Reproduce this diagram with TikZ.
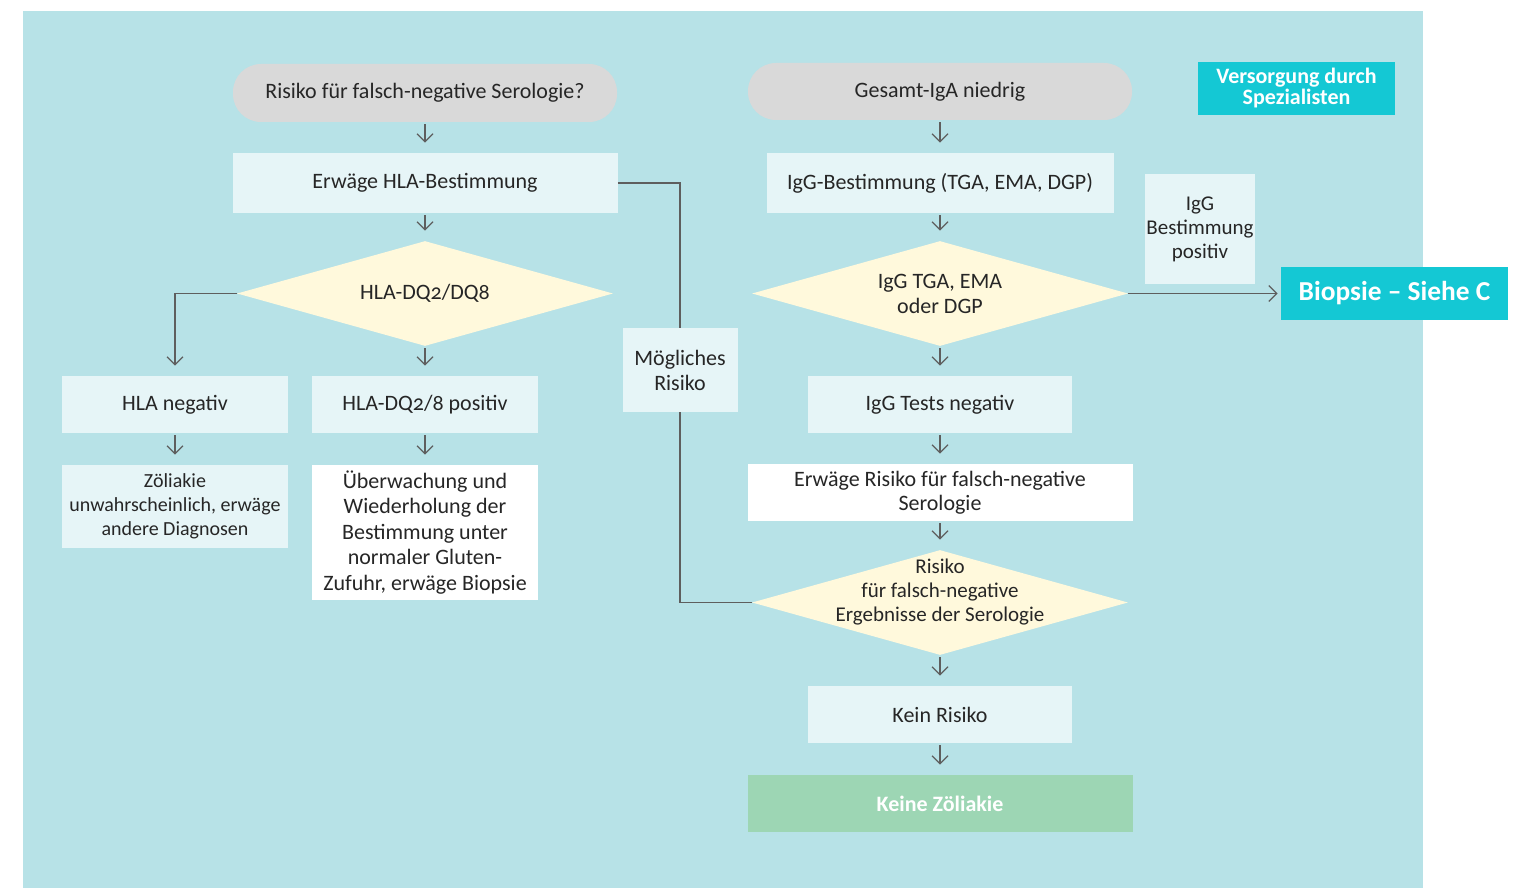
\documentclass[tikz,border=0pt]{standalone}
\usepackage{fontspec}
\setmainfont{Carlito}[Numbers=OldStyle]
\usepackage{tikz}
\usetikzlibrary{arrows.meta,shapes.geometric}

\definecolor{panel}{HTML}{B7E2E7}
\definecolor{pale}{HTML}{E6F5F7}
\definecolor{pillgrey}{HTML}{D9D9D9}
\definecolor{dyellow}{HTML}{FFF9DC}
\definecolor{spec}{HTML}{14C8D4}
\definecolor{okgreen}{HTML}{9DD6B4}
\definecolor{ink}{HTML}{262626}
\definecolor{wire}{HTML}{5E5E5E}

\begin{document}
\begin{tikzpicture}[
  x=0.5pt, y=-0.5pt,
  font=\fontsize{11}{12.5}\selectfont,
  pill/.style={fill=pillgrey, rounded corners=14pt, minimum width=192pt, minimum height=29pt, align=center, text=ink},
  box/.style={fill=pale, align=center, inner sep=2pt, text=ink},
  wbox/.style={box, fill=white},
  dia/.style={diamond, aspect=3.6, fill=dyellow, minimum width=188pt, minimum height=52.5pt, inner sep=-10pt, align=center, text=ink},
  hot/.style={fill=spec, text=white, align=center, font=\bfseries\fontsize{11}{10.5}\selectfont},
  arr/.style={-{Straight Barb[length=4pt,width=8pt]}, draw=wire, line width=0.6pt, shorten <=1pt, shorten >=5pt},
  link/.style={draw=wire, line width=0.6pt}
]
\useasboundingbox (0,0) rectangle (1526,888);
\fill[panel] (23,11) rectangle (1423,888);

% Left column
\node[pill] (riskq) at (425,93) {Risiko für falsch-negative Serologie?};
\node[box, minimum width=192.5pt, minimum height=30pt] (hlatest) at (425,183) {Erwäge HLA-Bestimmung};
\node[dia] (hladia) at (425,293.5) {HLA-DQ2/DQ8};
\node[box, minimum width=113pt, minimum height=28.5pt] (hlaneg) at (175,404.5) {HLA negativ};
\node[box, minimum width=113pt, minimum height=28.5pt] (hlapos) at (425,404.5) {HLA-DQ2/8 positiv};
\node[box, minimum width=113pt, minimum height=41.5pt, font=\fontsize{10}{12}\selectfont] (unlikely) at (175,506.5)
  {Zöliakie\\unwahrscheinlich, erwäge\\andere Diagnosen};
\node[wbox, minimum width=113pt, minimum height=67.5pt, font=\fontsize{11}{12.75}\selectfont] (watch) at (425,532.5)
  {Überwachung und\\Wiederholung der\\Bestimmung unter\\normaler Gluten-\\Zufuhr, erwäge Biopsie};

\draw[arr] (riskq) -- (hlatest);
\draw[arr] (hlatest) -- (hladia);
\draw[arr] (hladia) -- (hlapos);
\draw[arr, shorten <=0pt] (hladia.west) -| (hlaneg.north);
\draw[arr] (hlaneg) -- (unlikely);
\draw[arr] (hlapos) -- (watch);

% Right column
\node[pill, minimum height=28.5pt] (lowiga) at (940,91.5) {Gesamt-IgA niedrig};
\node[box, minimum width=173.5pt, minimum height=30pt] (iggtest) at (940,183) {IgG-Bestimmung (TGA, EMA, DGP)};
\node[dia] (iggdia) at (940,293.5) {IgG TGA, EMA\\oder DGP};
\node[box, minimum width=132pt, minimum height=28.5pt] (iggneg) at (940,404.5) {IgG Tests negativ};
\node[wbox, minimum width=192.5pt, minimum height=28.5pt, font=\fontsize{11}{12}\selectfont] (falseneg) at (940,492.5) {Erwäge Risiko für falsch-negative\\Serologie};
\node[dia, font=\fontsize{10.5}{12}\selectfont, text depth=12pt] (riskdia) at (940,602.5) {Risiko\\für falsch-negative\\Ergebnisse der Serologie};
\node[box, minimum width=132pt, minimum height=28.5pt] (norisk) at (940,714.5) {Kein Risiko};
\node[hot, fill=okgreen, minimum width=192.5pt, minimum height=28.5pt] (nocd) at (940,803.5) {Keine Zöliakie};

\draw[arr] (lowiga) -- (iggtest);
\draw[arr] (iggtest) -- (iggdia);
\draw[arr] (iggdia) -- (iggneg);
\draw[arr] (iggneg) -- (falseneg);
\draw[arr] (falseneg) -- (riskdia);
\draw[arr] (riskdia) -- (norisk);
\draw[arr] (norisk) -- (nocd);

% Possible risk link
\node[box, minimum width=57.5pt, minimum height=42pt] (maybe) at (680,370) {Mögliches\\Risiko};
\draw[link] (hlatest.east) -| (maybe.north);
\draw[link] (maybe.south) |- (riskdia.west);

% Specialist care
\node[hot, minimum width=98.5pt, minimum height=26pt] (care) at (1296.5,88.5) {Versorgung durch\\Spezialisten};
\node[box, minimum width=55pt, minimum height=55pt, inner sep=0pt, font=\fontsize{10.5}{12}\selectfont] (iggpos) at (1200,229) {IgG\\Bestimmung\\positiv};
\node[hot, minimum width=113.5pt, minimum height=26.5pt, font=\bfseries\fontsize{13.7}{14}\selectfont] (biopsy) at (1394.5,293.5) {Biopsie -- Siehe C};
\draw[arr, shorten <=0pt, shorten >=1.5pt] (iggdia.east) -- (biopsy.west);

\end{tikzpicture}
\end{document}
